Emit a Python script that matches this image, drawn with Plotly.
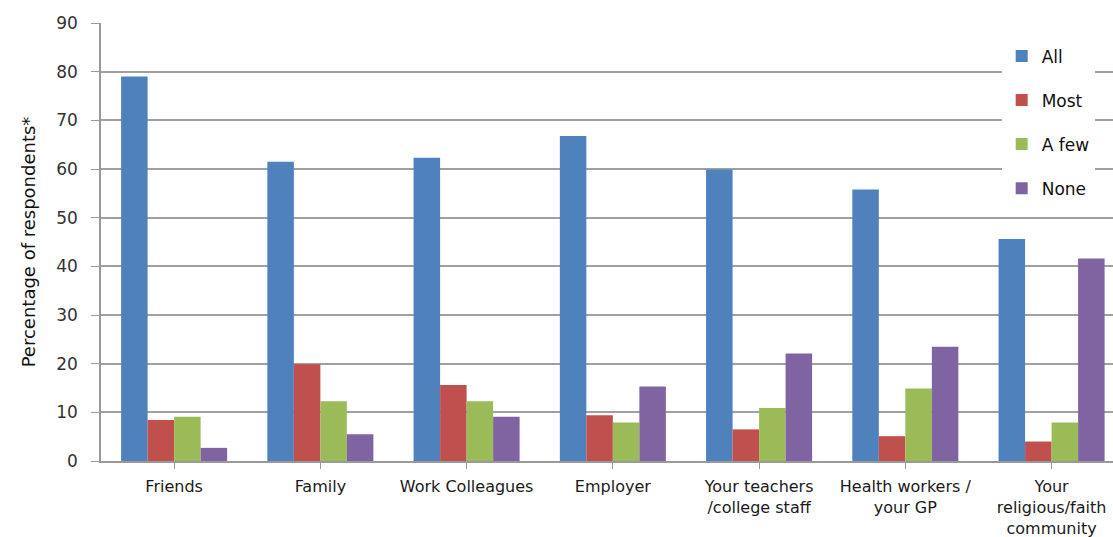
import plotly.graph_objects as go

# Survey groups along the x axis
categories = [
    "Friends",
    "Family",
    "Work Colleagues",
    "Employer",
    "Your teachers<br>/college staff",
    "Health workers /<br>your GP",
    "Your<br>religious/faith<br>community",
]

# Percentage of respondents per answer
all_vals = [79.0, 61.5, 62.3, 66.8, 59.9, 55.8, 45.6]
most_vals = [8.4, 19.9, 15.6, 9.4, 6.5, 5.1, 4.0]
few_vals = [9.1, 12.3, 12.3, 7.9, 10.9, 14.9, 7.9]
none_vals = [2.7, 5.5, 9.1, 15.3, 22.1, 23.5, 41.6]

y_ticks = [0, 10, 20, 30, 40, 50, 60, 70, 80, 90]

series = [
    ("All", all_vals, "#4F81BD"),
    ("Most", most_vals, "#C0504D"),
    ("A few", few_vals, "#9BBB59"),
    ("None", none_vals, "#8064A2"),
]

fig = go.Figure()
for i, (name, vals, color) in enumerate(series):
    fig.add_trace(go.Bar(
        name=name,
        x=list(range(len(categories))),
        y=vals,
        marker=dict(color=color, line=dict(width=0)),
        legendgroup=f"g{i}",
    ))

font_family = "DejaVu Sans, Verdana, sans-serif"

fig.update_layout(
    width=1113,
    height=537,
    margin=dict(l=101, r=0, t=23, b=76),
    paper_bgcolor="white",
    plot_bgcolor="white",
    barmode="group",
    bargap=0.275,
    bargroupgap=0,
    font=dict(family=font_family, color="#222222"),
    showlegend=True,
    legend=dict(
        x=0.89, y=0.965,
        xanchor="left", yanchor="top",
        bgcolor="white",
        borderwidth=0,
        font=dict(size=17, color="#111111"),
        traceorder="grouped",
        tracegroupgap=19,
        itemwidth=30,
    ),
    xaxis=dict(
        tickmode="array",
        tickvals=list(range(len(categories))),
        ticktext=categories,
        range=[-0.5, 6.42],
        showline=True,
        linecolor="#999999",
        linewidth=1.5,
        ticks="outside",
        tickson="boundaries",
        ticklen=6,
        tickcolor="#999999",
        ticklabelstandoff=4,
        showgrid=False,
        tickfont=dict(size=16, color="#1a1a1a"),
    ),
    yaxis=dict(
        range=[0, 90],
        tickmode="array",
        tickvals=y_ticks,
        showline=True,
        linecolor="#999999",
        linewidth=1.5,
        ticks="outside",
        ticklen=8,
        tickcolor="#999999",
        ticklabelstandoff=10,
        showgrid=True,
        gridcolor="#a0a0a0",
        gridwidth=1.5,
        zeroline=False,
        tickfont=dict(size=17, color="#333333"),
        title=dict(text="Percentage of respondents*", font=dict(size=18, color="#111111"), standoff=16),
    ),
)

fig.write_html("out.html")
